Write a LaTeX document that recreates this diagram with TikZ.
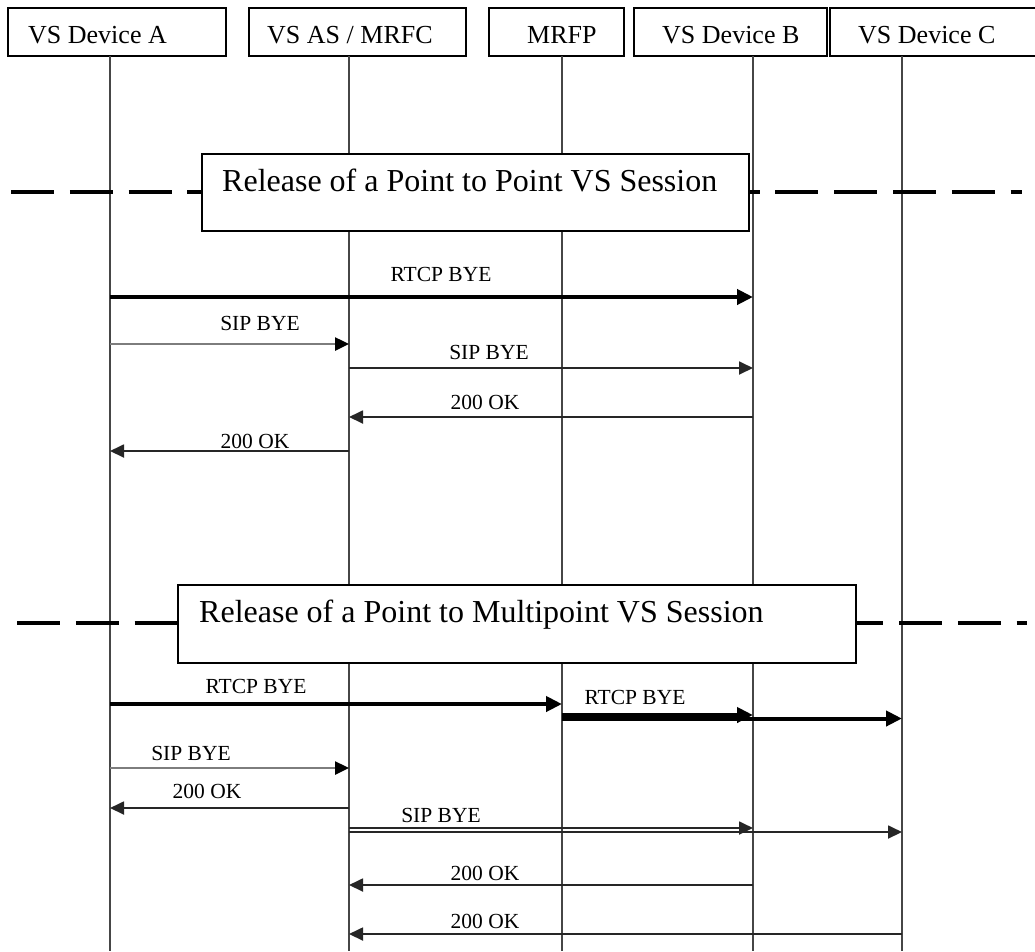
\documentclass[tikz,border=0pt]{standalone}
\usepackage{fontspec}
\setmainfont{Liberation Serif}
\usepackage{xcolor}
\usepackage{tikz}
\usetikzlibrary{arrows.meta}
\definecolor{lineagris}{RGB}{70,70,70}
\definecolor{flechagris}{RGB}{125,125,125}

\begin{document}
\begin{tikzpicture}[x=1pt, y=-1pt, >=Triangle,
    caja/.style={draw, line width=1.3pt, fill=white, inner sep=0pt},
    cab/.style={anchor=base west, inner sep=0pt, font=\fontsize{26}{30}\selectfont},
    titulo/.style={anchor=base west, inner sep=0pt, font=\fontsize{32}{36}\selectfont},
    etq/.style={inner sep=0pt, font=\fontsize{21.5}{24}\selectfont},
    vida/.style={line width=1.5pt, lineagris},
    corte/.style={line width=4.5pt, dash pattern=on 43pt off 15.8pt},
    grueso/.style={->, line width=4pt, >={Triangle[length=16pt,width=15pt]}},
    fino/.style={->, line width=1.8pt, black!85, >={Triangle[length=14pt,width=13pt]}},
    gris/.style={->, line width=2.5pt, flechagris, >={Triangle[length=14pt,width=13pt,color=black]}}]
    \clip (0,0) rectangle (1035,951);
    \fill[white] (0,0) rectangle (1035,951);
    % cabeceras
    \node[caja, minimum width=218pt, minimum height=48pt] (cA) at (117,32) {};
    \node[caja, minimum width=217pt, minimum height=48pt] (cAS) at (357.5,32) {};
    \node[caja, minimum width=135pt, minimum height=48pt] (cMP) at (556.5,32) {};
    \node[caja, minimum width=193pt, minimum height=48pt] (cB) at (730.5,32) {};
    \node[caja, minimum width=215pt, minimum height=48pt] (cC) at (937.5,32) {};
    \node[cab] (tA) at (28,43) {VS Device A};
    \node[cab] (tAS) at (267,43) {VS AS / MRFC};
    \node[cab] (tMP) at (527,43) {MRFP};
    \node[cab] (tB) at (662,43) {VS Device B};
    \node[cab] (tC) at (858,43) {VS Device C};
    % lineas de vida
    \coordinate (fondo) at (0,951);
    \coordinate (vA) at (110,56);
    \coordinate (vAS) at (349,56);
    \coordinate (vMP) at (562,56);
    \coordinate (vB) at (753,56);
    \coordinate (vC) at (902,56);
    \foreach \v in {vA,vAS,vMP,vB,vC}
        \draw[vida] (\v) -- (\v |- fondo);
    % separadores de fase
    \draw[corte] (11,192) -- (1022,192);
    \draw[corte] (17,623) -- (1027,623);
    \node[caja, minimum width=547pt, minimum height=77pt] (p2p) at (475.5,192.5) {};
    \node[titulo] (tp2p) at (222,191) {Release of a Point to Point VS Session};
    \node[caja, minimum width=678pt, minimum height=78pt] (p2m) at (517,624) {};
    \node[titulo] (tp2m) at (199,622) {Release of a Point to Multipoint VS Session};
    % punto a punto
    \draw[grueso] (vA |- 0,297) -- (vB |- 0,297);
    \node[etq] (m1) at (441,274) {RTCP BYE};
    \draw[gris] (vA |- 0,344) -- (vAS |- 0,344);
    \node[etq] (m2) at (260,323) {SIP BYE};
    \draw[fino] (vAS |- 0,368) -- (vB |- 0,368);
    \node[etq] (m3) at (489,352) {SIP BYE};
    \draw[fino] (vB |- 0,417) -- (vAS |- 0,417);
    \node[etq] (m4) at (485,402) {200 OK};
    \draw[fino] (vAS |- 0,451) -- (vA |- 0,451);
    \node[etq] (m5) at (255,441) {200 OK};
    % punto a multipunto
    \draw[grueso] (vA |- 0,704) -- (vMP |- 0,704);
    \node[etq] (m6) at (256,686) {RTCP BYE};
    \draw[grueso] (vMP |- 0,718.5) -- (vC |- 0,718.5);
    \draw[grueso] (vMP |- 0,715) -- (vB |- 0,715);
    \node[etq] (m7) at (635,697) {RTCP BYE};
    \draw[gris] (vA |- 0,768) -- (vAS |- 0,768);
    \node[etq] (m8) at (191,753) {SIP BYE};
    \draw[fino] (vAS |- 0,808) -- (vA |- 0,808);
    \node[etq] (m9) at (207,791) {200 OK};
    \draw[fino] (vAS |- 0,832) -- (vC |- 0,832);
    \draw[fino] (vAS |- 0,828) -- (vB |- 0,828);
    \node[etq] (m10) at (441,815) {SIP BYE};
    \draw[fino] (vB |- 0,885) -- (vAS |- 0,885);
    \node[etq] (m11) at (485,873) {200 OK};
    \draw[fino] (vC |- 0,934) -- (vAS |- 0,934);
    \node[etq] (m12) at (485,921) {200 OK};
\end{tikzpicture}
\end{document}
